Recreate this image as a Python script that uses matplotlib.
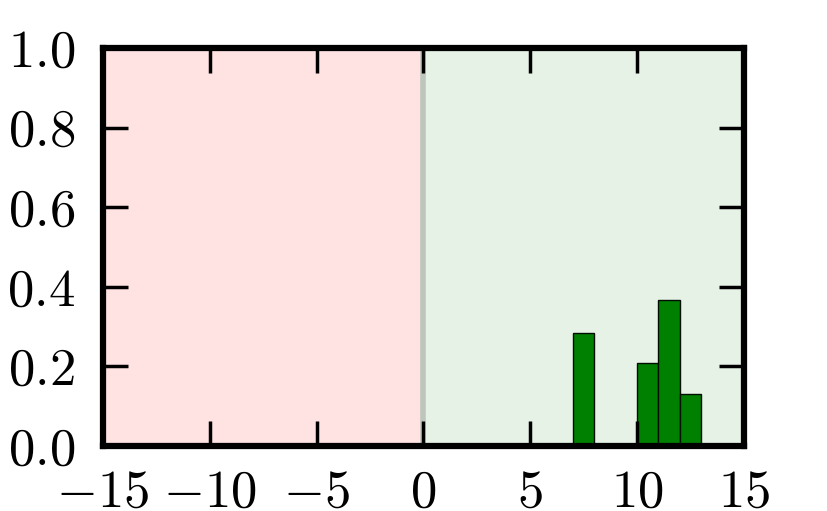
import matplotlib
matplotlib.use("Agg")
import matplotlib.pyplot as plt

plt.rcParams["font.family"] = "serif"
plt.rcParams["font.serif"] = ["cmr10"]
plt.rcParams["mathtext.fontset"] = "cm"
plt.rcParams["axes.formatter.use_mathtext"] = True

bin_left = [7, 10, 11, 12]
bin_width = 1.0
density = [0.285, 0.209, 0.368, 0.132]
xticks = [-15, -10, -5, 0, 5, 10, 15]
yticks = [0.0, 0.2, 0.4, 0.6, 0.8, 1.0]

fig = plt.figure(figsize=(8.27, 5.11), dpi=100)
ax = fig.add_axes([0.1245, 0.127, 0.775, 0.779])
ax.axvspan(-15, 0, color="red", alpha=0.11, lw=0)
ax.axvspan(0, 15, color="green", alpha=0.1, lw=0)
ax.axvline(0, color="#bcc6bc", lw=4, zorder=1)
ax.bar(bin_left, density, width=bin_width, align="edge", color="green",
       edgecolor="black", linewidth=1, zorder=0.5)
ax.set_xlim(-15, 15)
ax.set_ylim(0, 1)
ax.set_xticks(xticks)
ax.set_yticks(yticks)
ax.set_xticklabels([r"$%d$" % v if v >= 0 else r"$-%d$" % -v for v in xticks])
ax.set_yticklabels([r"$%.1f$" % v for v in yticks])
ax.tick_params(direction="in", length=18, width=2.5, labelsize=38,
               top=True, right=True)
ax.tick_params(axis="x", pad=17)
ax.tick_params(axis="y", pad=20)
for s in ax.spines.values():
    s.set_linewidth(4.5)
    s.set_zorder(5)
fig.savefig("out.png", dpi=100)
